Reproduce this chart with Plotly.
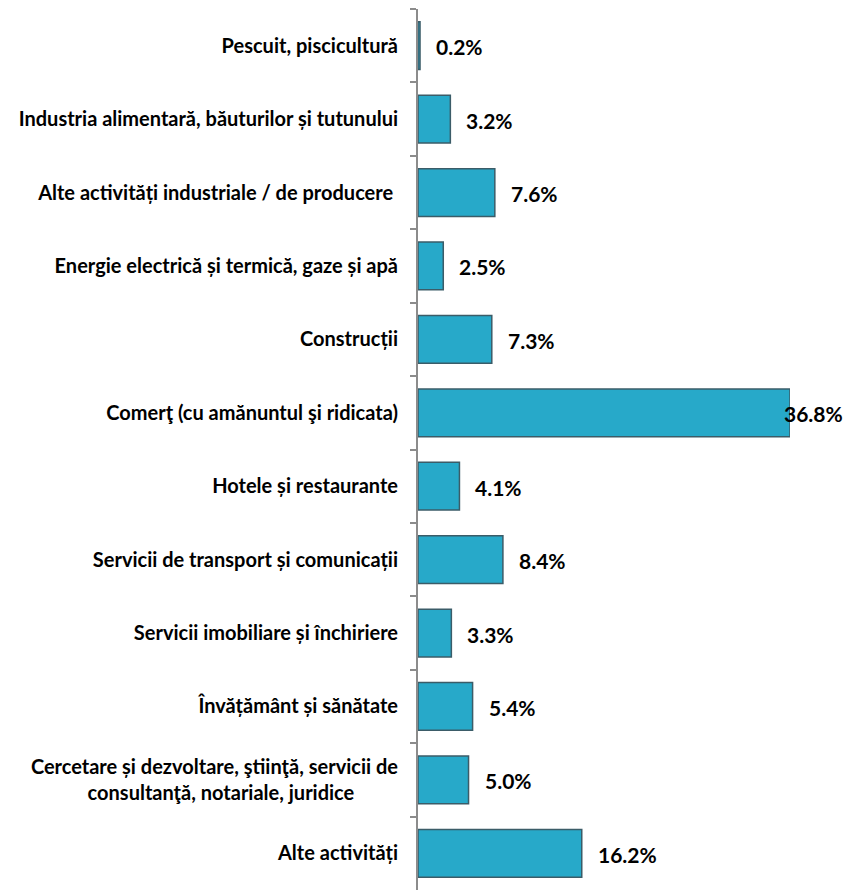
import plotly.graph_objects as go

# Sector shares (%), listed top to bottom
categories = [
    "Pescuit, piscicultură",
    "Industria alimentară, băuturilor și tutunului",
    "Alte activități industriale / de producere ",
    "Energie electrică și termică, gaze și apă",
    "Construcții",
    "Comerţ (cu amănuntul şi ridicata)",
    "Hotele și restaurante",
    "Servicii de transport și comunicații",
    "Servicii imobiliare și închiriere",
    "Învățământ și sănătate",
    "Cercetare și dezvoltare, ştiinţă, servicii de<br>consultanţă, notariale, juridice" + "\u00a0" * 9,
    "Alte activități",
]
values = [0.2, 3.2, 7.6, 2.5, 7.3, 36.8, 4.1, 8.4, 3.3, 5.4, 5.0, 16.2]
value_labels = [f"{v:.1f}%" for v in values]

FONT = "Lato"
BAR_FILL = "#27A9C9"
BAR_EDGE = "#3B5C68"
AXIS_GREY = "#8C8C8C"

fig = go.Figure(
    go.Bar(
        x=values,
        y=categories,
        orientation="h",
        marker=dict(color=BAR_FILL, line=dict(color=BAR_EDGE, width=1.5)),
        hoverinfo="skip",
    )
)

# Value labels just past each bar end; the longest one is pulled back inside the frame
vmax = max(values)
label_font = dict(family=FONT, size=21, color="#000000", weight="bold")
for cat, v, lab in zip(categories, values, value_labels):
    if v == vmax:
        fig.add_annotation(x=v, y=cat, text=lab, showarrow=False,
                           xanchor="right", xshift=55, yshift=-1, font=label_font)
    else:
        fig.add_annotation(x=v, y=cat, text=lab, showarrow=False,
                           xanchor="left", xshift=14, yshift=-1, font=label_font)

fig.update_layout(
    width=844,
    height=891,
    margin=dict(l=418, r=54, t=9, b=1),
    paper_bgcolor="white",
    plot_bgcolor="white",
    bargap=0.35,
    showlegend=False,
    font=dict(family=FONT, color="#000000"),
)

fig.update_xaxes(
    range=[0, vmax],
    showgrid=False,
    zeroline=False,
    showticklabels=False,
    showline=False,
    ticks="",
)

fig.update_yaxes(
    autorange="reversed",
    showgrid=False,
    zeroline=False,
    showline=True,
    linecolor=AXIS_GREY,
    linewidth=2,
    ticks="outside",
    ticklen=6,
    tickwidth=2,
    tickcolor=AXIS_GREY,
    tickson="boundaries",
    ticklabelstandoff=14,
    tickfont=dict(family=FONT, size=20, color="#000000", weight="bold"),
)

fig.write_html("out.html")
